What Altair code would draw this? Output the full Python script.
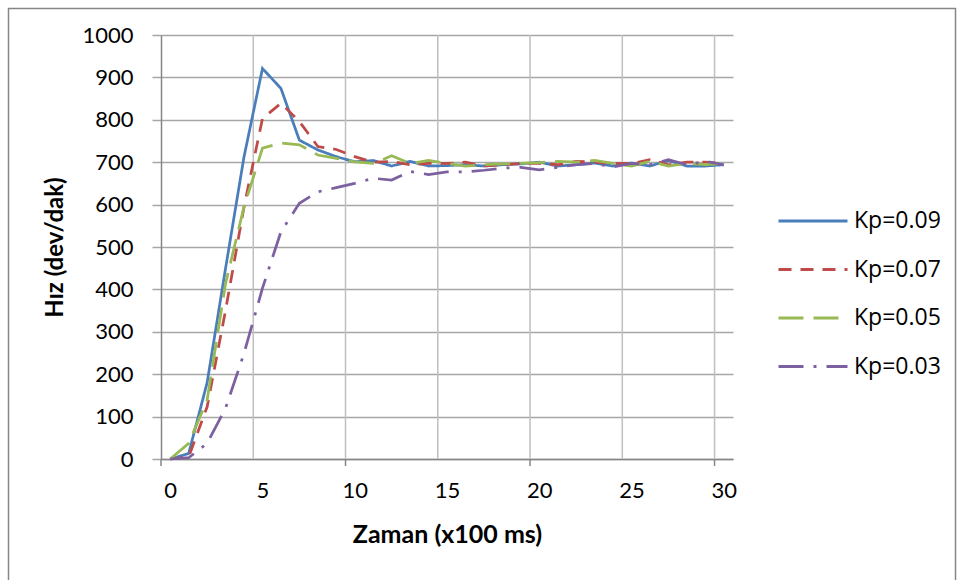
import altair as alt
import pandas as pd

# ---- data ----
t = list(range(0, 31))
kp09 = [0, 13, 180, 450, 713, 921, 874, 752, 729, 713, 701, 704, 691, 702, 691, 692,
        694, 691, 694, 696, 700, 691, 694, 698, 691, 698, 691, 704, 691, 691, 694]
kp07 = [0, 5, 123, 351, 595, 803, 839, 796, 737, 730, 713, 700, 702, 694, 697, 697,
        700, 691, 694, 697, 697, 694, 702, 700, 697, 697, 706, 694, 700, 700, 697]
kp05 = [0, 37, 139, 414, 595, 733, 745, 741, 717, 709, 701, 697, 715, 697, 704, 697,
        691, 694, 696, 697, 699, 702, 700, 704, 697, 691, 702, 691, 697, 694, 697]
kp03 = [0, 3, 37, 120, 249, 403, 536, 603, 630, 640, 650, 662, 658, 678, 671, 677,
        677, 681, 686, 688, 682, 688, 694, 697, 689, 697, 694, 706, 694, 702, 694]

series = ["Kp=0.09", "Kp=0.07", "Kp=0.05", "Kp=0.03"]
colors = ["#4a7ebb", "#be4b48", "#98b954", "#7d60a0"]
dashes = [[1, 0], [13, 9], [25, 10], [25, 10, 3, 10]]

x_labels = [0, 5, 10, 15, 20, 25, 30]
y_ticks = [0, 100, 200, 300, 400, 500, 600, 700, 800, 900, 1000]
v_grid = [4.5, 9.5, 14.5, 19.5, 24.5, 29.5]
x_tick_marks = [-0.5, 9.5, 19.5, 29.5]

rows = []
for name, vals in zip(series, [kp09, kp07, kp05, kp03]):
    for xi, v in zip(t, vals):
        rows.append({"t": xi, "v": v, "s": name})
df = pd.DataFrame(rows)

W, H = 572, 424
FONT = "Lato"

xscale = alt.Scale(domain=[-0.5, 30.5], nice=False, zero=False)

vgrid = alt.Chart(pd.DataFrame({"g": v_grid})).mark_rule(
    color="#bfbfbf", strokeWidth=1.5
).encode(x=alt.X("g:Q", scale=xscale), y=alt.value(0), y2=alt.value(H))

xticks = alt.Chart(pd.DataFrame({"g": x_tick_marks})).mark_rule(
    color="#868686", strokeWidth=1.5
).encode(x=alt.X("g:Q", scale=xscale), y=alt.value(H), y2=alt.value(H + 7))

frame = alt.Chart(pd.DataFrame({"a": [0]})).mark_rect(
    fill="white", fillOpacity=0, stroke="#868686", strokeWidth=1.5
).encode(x=alt.value(8.5 - 161), x2=alt.value(955.5 - 161),
         y=alt.value(8.5 - 35), y2=alt.value(600 - 35))

legend = alt.Legend(orient="none", legendX=616, legendY=176,
                    symbolType="stroke", symbolSize=4761,
                    symbolStrokeWidth=3, clipHeight=20, rowPadding=25.5,
                    labelOffset=5, labelFont="Open Sans",
                    labelFontSize=23, labelColor="black")

lines = alt.Chart(df).mark_line(strokeWidth=2.75, strokeCap="butt").encode(
    x=alt.X("t:Q", scale=xscale,
            axis=alt.Axis(values=x_labels, grid=False, ticks=False, tickSize=0,
                          domainColor="#868686", domainWidth=1.5, format="d",
                          labelFont=FONT, labelFontSize=22, labelColor="black",
                          labelPadding=21, labelFlush=False,
                          title="Zaman (x100 ms)", titleFont=FONT, titleFontSize=25,
                          titleFontWeight="bold", titleColor="black", titlePadding=21)),
    y=alt.Y("v:Q", scale=alt.Scale(domain=[0, 1000], nice=False),
            axis=alt.Axis(values=y_ticks, grid=True, gridColor="#a6a6a6", gridWidth=1.5,
                          tickColor="#a6a6a6", tickWidth=1.5, tickSize=9, format="d",
                          domainColor="#868686", domainWidth=1.5,
                          labelFont=FONT, labelFontSize=22, labelColor="black",
                          labelPadding=19,
                          title="Hız (dev/dak)", titleFont=FONT, titleFontSize=24,
                          titleFontWeight="bold", titleColor="black", titlePadding=14)),
    color=alt.Color("s:N", scale=alt.Scale(domain=series, range=colors),
                    sort=series, title=None, legend=legend),
    strokeDash=alt.StrokeDash("s:N", scale=alt.Scale(domain=series, range=dashes),
                              sort=series, title=None, legend=legend),
    order="t:Q",
)

chart = alt.layer(frame, vgrid, xticks, lines).properties(
    width=W, height=H,
    autosize=alt.AutoSizeParams(type="none"),
    padding={"left": 161, "top": 35, "right": 228, "bottom": 121},
    background="white",
).configure_view(stroke=None)

chart.save("out.html", embed_options={"renderer": "svg", "actions": False})
